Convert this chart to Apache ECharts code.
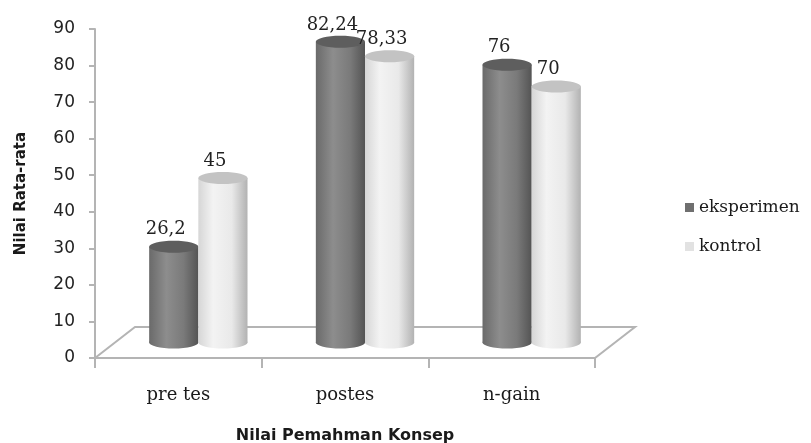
<!DOCTYPE html>
<html>
<head>
<meta charset="utf-8">
<script src="https://cdn.jsdelivr.net/npm/echarts@6/dist/echarts.min.js"></script>
<style>
  html, body { margin: 0; padding: 0; background: #ffffff; }
  #chart { width: 811px; height: 443px; }
</style>
</head>
<body>
<div id="chart"></div>
<script>
// Rata-rata nilai pemahaman konsep: kelas eksperimen vs kontrol
const categories = ['pre tes', 'postes', 'n-gain'];
const seriesNames = ['eksperimen', 'kontrol'];
const eksperimen = [26.2, 82.24, 76];
const kontrol = [45, 78.33, 70];
const yTicks = { min: 0, max: 90, interval: 10 };

// plot layout (front plane) and the depth offset of the 3D floor
const G = { left: 95, top: 29, width: 500, height: 329 };
const DEPTH = { dx: 40, dy: -31 };

const styles = [
  {
    side: -1,
    body: [[0, '#6a6a6a'], [0.35, '#8d8d8d'], [0.7, '#7a7a7a'], [1, '#545454']],
    cap: '#5e5e5e',
    legend: '#6f6f6f'
  },
  {
    side: 1,
    body: [[0, '#d6d6d6'], [0.3, '#f3f3f3'], [0.68, '#e9e9e9'], [1, '#b2b2b2']],
    cap: '#c3c3c3',
    legend: '#e2e2e2'
  }
];

function gradient(stops) {
  return new echarts.graphic.LinearGradient(0, 0, 1, 0,
    stops.map(s => ({ offset: s[0], color: s[1] })));
}

function fmt(v) {
  return String(v).replace('.', ',');
}

function cylinderSeries(name, values, st) {
  return {
    name: name,
    type: 'custom',
    z: 5,
    itemStyle: { color: st.legend },
    data: values.map((v, i) => [i, v]),
    renderItem: function (params, api) {
      const ci = api.value(0);
      const v = api.value(1);
      const base = api.coord([ci, 0]);
      const top = api.coord([ci, v]);
      const band = api.size([1, 0])[0];
      const w = band * 0.295;
      const cx = base[0] + DEPTH.dx / 2 + st.side * w / 2;
      const yb = base[1] + DEPTH.dy / 2;
      const yt = top[1] + DEPTH.dy / 2;
      const ry = 6;
      const fill = gradient(st.body);
      return {
        type: 'group',
        children: [
          {
            type: 'ellipse',
            shape: { cx: cx, cy: yb, rx: w / 2, ry: ry },
            style: { fill: fill }
          },
          {
            type: 'rect',
            shape: { x: cx - w / 2, y: yt, width: w, height: yb - yt },
            style: { fill: fill }
          },
          {
            type: 'ellipse',
            shape: { cx: cx, cy: yt, rx: w / 2, ry: ry },
            style: { fill: st.cap }
          },
          {
            type: 'text',
            x: cx - 8,
            y: yt - ry - 2,
            style: {
              text: fmt(v),
              fill: '#222222',
              font: '18px "DejaVu Serif"',
              align: 'center',
              verticalAlign: 'bottom'
            }
          }
        ]
      };
    }
  };
}

const x0 = G.left, x1 = G.left + G.width, yF = G.top + G.height;

const option = {
  animation: false,
  backgroundColor: '#ffffff',
  grid: {
    left: G.left, top: G.top, width: G.width, height: G.height,
    containLabel: false,
    outerBoundsMode: 'none'
  },
  legend: {
    orient: 'vertical',
    left: 680,
    top: 194,
    itemWidth: 9,
    itemHeight: 9,
    itemGap: 22,
    icon: 'rect',
    data: seriesNames,
    textStyle: { fontFamily: 'DejaVu Serif', fontSize: 17, color: '#1a1a1a' }
  },
  graphic: [
    {
      type: 'polygon',
      z: 0,
      silent: true,
      shape: {
        points: [[x0, yF], [x0 + DEPTH.dx, yF + DEPTH.dy],
                 [x1 + DEPTH.dx, yF + DEPTH.dy], [x1, yF]]
      },
      style: { fill: '#ffffff', stroke: '#b4b4b4', lineWidth: 2 }
    }
  ],
  xAxis: {
    type: 'category',
    data: categories,
    name: 'Nilai Pemahman Konsep',
    nameLocation: 'middle',
    nameGap: 70,
    nameTextStyle: { fontFamily: 'DejaVu Sans', fontWeight: 'bold', fontSize: 16, color: '#1a1a1a' },
    axisLine: { lineStyle: { color: '#b4b4b4', width: 2 } },
    axisTick: { show: true, length: 10, lineStyle: { color: '#b4b4b4', width: 2 } },
    axisLabel: { fontFamily: 'DejaVu Serif', fontSize: 18, color: '#1a1a1a', margin: 28 },
    splitLine: { show: false }
  },
  yAxis: {
    type: 'value',
    min: yTicks.min,
    max: yTicks.max,
    interval: yTicks.interval,
    name: 'Nilai Rata-rata',
    nameLocation: 'middle',
    nameGap: 66,
    nameRotate: 90,
    nameTextStyle: { fontFamily: 'DejaVu Sans', fontWeight: 'bold', fontSize: 15, color: '#1a1a1a' },
    axisLine: { show: true, lineStyle: { color: '#b4b4b4', width: 2 } },
    axisTick: { show: true, length: 6, lineStyle: { color: '#b4b4b4', width: 2 } },
    axisLabel: { fontFamily: 'DejaVu Sans', fontSize: 17, color: '#222222', margin: 20 },
    splitLine: { show: false }
  },
  series: [
    cylinderSeries(seriesNames[0], eksperimen, styles[0]),
    cylinderSeries(seriesNames[1], kontrol, styles[1])
  ]
};

const chart = echarts.init(document.getElementById('chart'), null, { renderer: 'canvas' });
chart.setOption(option);
</script>
</body>
</html>
